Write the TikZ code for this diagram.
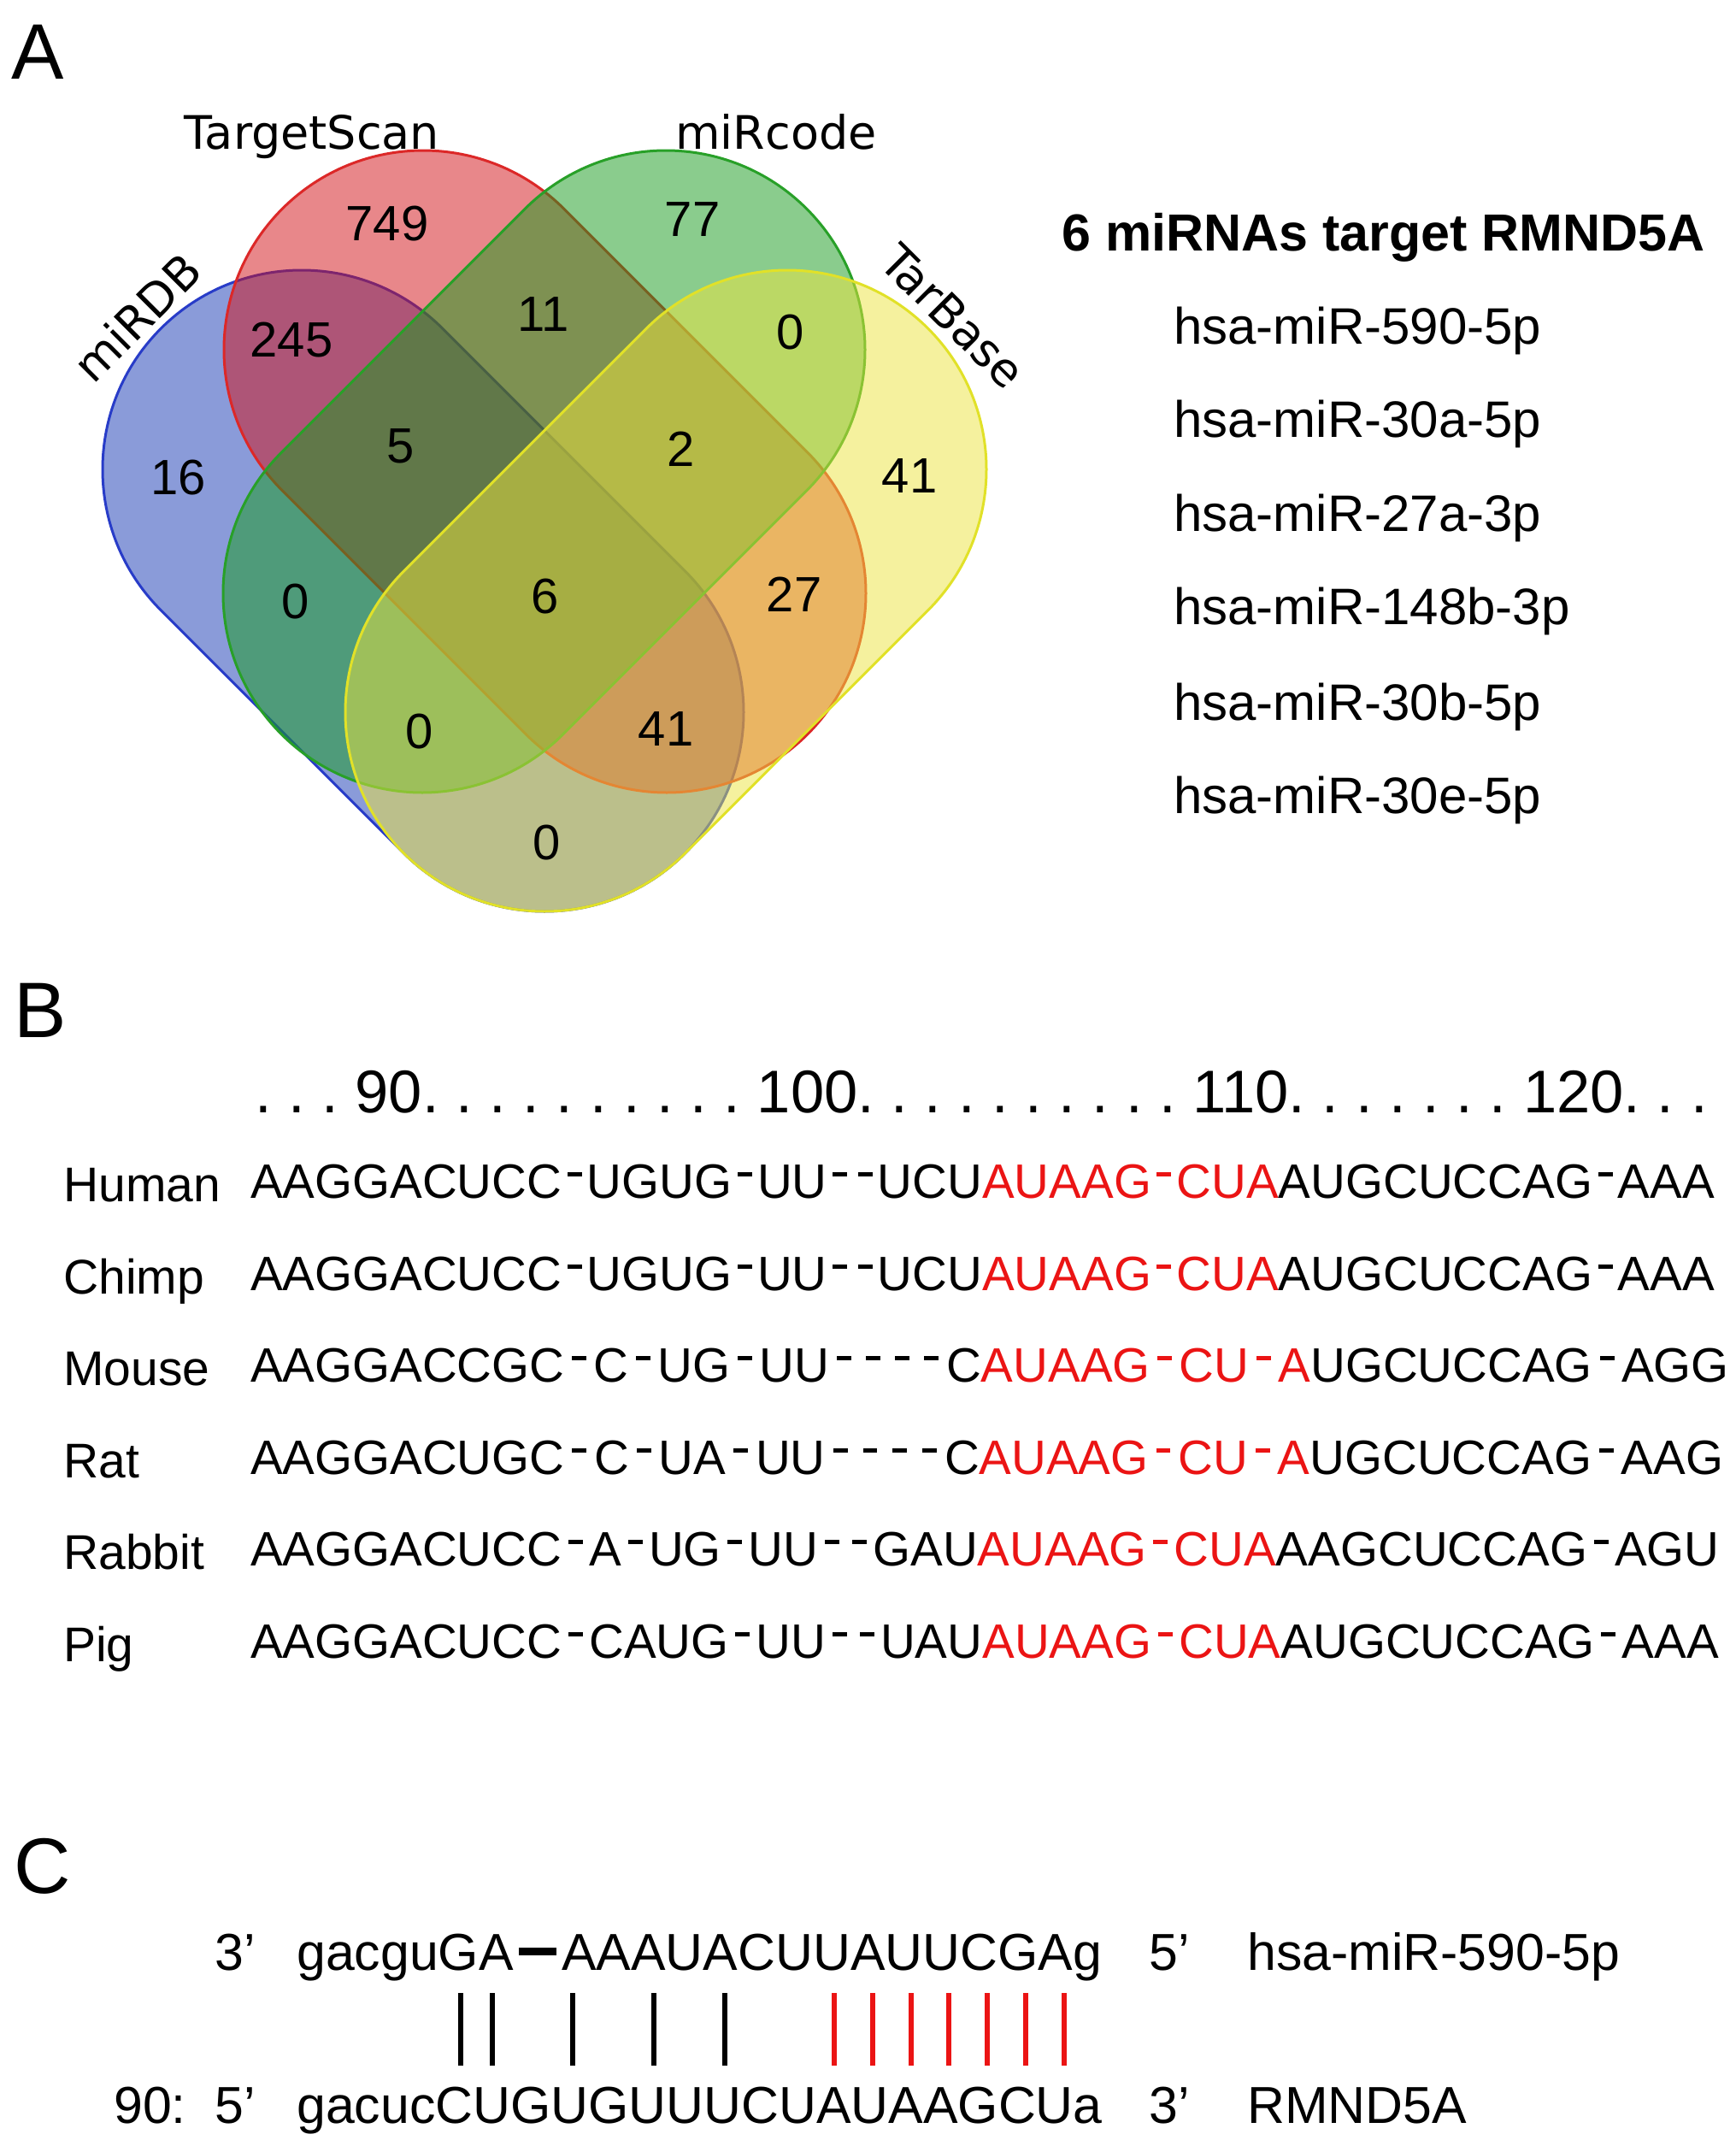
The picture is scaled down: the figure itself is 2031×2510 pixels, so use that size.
\documentclass[tikz,border=0pt]{standalone}
\usepackage{fontspec}
\newfontfamily\arial{Liberation Sans}
\newfontfamily\dejavu{DejaVu Sans}
\usetikzlibrary{calc}
\definecolor{vblue}{RGB}{22,56,180}
\definecolor{vred}{RGB}{210,16,22}
\definecolor{vgreen}{RGB}{22,155,28}
\definecolor{vyellow}{RGB}{236,228,62}
\definecolor{eblue}{RGB}{40,60,200}
\definecolor{ered}{RGB}{220,40,40}
\definecolor{egreen}{RGB}{40,160,40}
\definecolor{eyellow}{RGB}{225,225,40}
\definecolor{seqred}{RGB}{235,20,20}
\newcommand{\hw}{30}
\newcommand{\hy}{\makebox[\hw pt]{\rule[0.44em]{0.3em}{0.1em}}}
\begin{document}
\begin{tikzpicture}[x=1pt,y=-1pt,
  venn/.style={line width=3, fill opacity=0.5},
  panel/.style={font=\arial\fontsize{92}{96}\selectfont, anchor=base west, inner sep=0},
  num/.style={font=\arial\fontsize{58}{60}\selectfont, inner sep=0},
  vlabel/.style={font=\dejavu\fontsize{54}{56}\selectfont, inner sep=0},
  listhead/.style={font=\arial\bfseries\fontsize{61}{64}\selectfont, anchor=base west, inner sep=0},
  listitem/.style={font=\arial\fontsize{60}{64}\selectfont, anchor=base west, inner sep=0},
  ruler/.style={font=\arial\frenchspacing\fontsize{70.5}{72}\selectfont, anchor=base west, inner sep=0},
  seq/.style={font=\arial\fontsize{56.5}{60}\selectfont, anchor=base west, inner sep=0},
  species/.style={font=\arial\fontsize{57}{60}\selectfont, anchor=base west, inner sep=0},
  ctext/.style={font=\arial\fontsize{60.8}{64}\selectfont, anchor=base west, inner sep=0},
  pairbar/.style={line width=6},
]
\useasboundingbox (0,0) rectangle (2031,2510);
\fill[white] (0,0) rectangle (2031,2510);

% ---------- Panel A ----------
\node[panel] (pA) at (13,93) {A};

\coordinate (b1) at (353,549); \coordinate (b2) at (637,833);
\coordinate (r1) at (495,409); \coordinate (r2) at (780,694);
\coordinate (g1) at (779,409); \coordinate (g2) at (494,694);
\coordinate (y1) at (921,549); \coordinate (y2) at (637,833);

\draw[venn, draw=eblue, fill=vblue] ($(b1)+(135:233)$) -- ($(b2)+(135:233)$)
  arc[start angle=135, end angle=-45, radius=233] -- ($(b1)+(-45:233)$)
  arc[start angle=-45, end angle=-225, radius=233] -- cycle;
\draw[venn, draw=ered, fill=vred] ($(r1)+(135:233)$) -- ($(r2)+(135:233)$)
  arc[start angle=135, end angle=-45, radius=233] -- ($(r1)+(-45:233)$)
  arc[start angle=-45, end angle=-225, radius=233] -- cycle;
\draw[venn, draw=egreen, fill=vgreen] ($(g1)+(225:233)$) -- ($(g2)+(225:233)$)
  arc[start angle=225, end angle=45, radius=233] -- ($(g1)+(45:233)$)
  arc[start angle=45, end angle=-135, radius=233] -- cycle;
\draw[venn, draw=eyellow, fill=vyellow] ($(y1)+(225:233)$) -- ($(y2)+(225:233)$)
  arc[start angle=225, end angle=45, radius=233] -- ($(y1)+(45:233)$)
  arc[start angle=45, end angle=-135, radius=233] -- cycle;

\node[vlabel] (lts) at (365,160) {TargetScan};
\node[vlabel] (lmc) at (908,154) {miRcode};
\node[vlabel, rotate=45] (ldb) at (160,371) {miRDB};
\node[vlabel, rotate=-45] (ltb) at (1115,370) {TarBase};

\node[num] (n749) at (453,262) {749};
\node[num] (n77) at (810,257) {77};
\node[num] (n245) at (341,398) {245};
\node[num] (n11) at (636,368) {11};
\node[num] (n0a) at (925,389) {0};
\node[num] (n16) at (209,559) {16};
\node[num] (n5) at (469,522) {5};
\node[num] (n2) at (797,525) {2};
\node[num] (n41a) at (1064,557) {41};
\node[num] (n0b) at (346,704) {0};
\node[num] (n6) at (638,698) {6};
\node[num] (n27) at (929,695) {27};
\node[num] (n0c) at (491,856) {0};
\node[num] (n41b) at (779,853) {41};
\node[num] (n0d) at (640,986) {0};

\node[listhead] (lhead) at (1242,293) {6 miRNAs target RMND5A};
\node[listitem] (m1) at (1373,402) {hsa-miR-590-5p};
\node[listitem] (m2) at (1373,511) {hsa-miR-30a-5p};
\node[listitem] (m3) at (1373,621) {hsa-miR-27a-3p};
\node[listitem] (m4) at (1373,730) {hsa-miR-148b-3p};
\node[listitem] (m5) at (1373,842) {hsa-miR-30b-5p};
\node[listitem] (m6) at (1373,951) {hsa-miR-30e-5p};

% ---------- Panel B ----------
\node[panel] (pB) at (16,1213) {B};
\node[ruler] (rul) at (298,1301) {. . . 90. . . . . . . . . . 100. . . . . . . . . . 110. . . . . . . 120. . .};

\node[species] (sHuman) at (74,1405) {Human};
\node[species] (sChimp) at (74,1513) {Chimp};
\node[species] (sMouse) at (74,1620) {Mouse};
\node[species] (sRat) at (74,1728) {Rat};
\node[species] (sRabbit) at (74,1835) {Rabbit};
\node[species] (sPig) at (74,1943) {Pig};

\node[seq] (qHuman) at (293,1401) {\renewcommand{\hw}{29.6}AAGGACUCC\hy UGUG\hy UU\hy\hy UCU\textcolor{seqred}{AUAAG\hy CUA}AUGCUCCAG\hy AAA};
\node[seq] (qChimp) at (293,1509) {\renewcommand{\hw}{29.6}AAGGACUCC\hy UGUG\hy UU\hy\hy UCU\textcolor{seqred}{AUAAG\hy CUA}AUGCUCCAG\hy AAA};
\node[seq] (qMouse) at (293,1616) {\renewcommand{\hw}{34.2}AAGGACCGC\hy C\hy UG\hy UU\hy\hy\hy\hy C\textcolor{seqred}{AUAAG\hy CU\hy A}UGCUCCAG\hy AGG};
\node[seq] (qRat) at (293,1724) {\renewcommand{\hw}{34.8}AAGGACUGC\hy C\hy UA\hy UU\hy\hy\hy\hy C\textcolor{seqred}{AUAAG\hy CU\hy A}UGCUCCAG\hy AAG};
\node[seq] (qRabbit) at (293,1831) {\renewcommand{\hw}{32}AAGGACUCC\hy A\hy UG\hy UU\hy\hy GAU\textcolor{seqred}{AUAAG\hy CUA}AAGCUCCAG\hy AGU};
\node[seq] (qPig) at (293,1939) {\renewcommand{\hw}{32}AAGGACUCC\hy CAUG\hy UU\hy\hy UAU\textcolor{seqred}{AUAAG\hy CUA}AUGCUCCAG\hy AAA};

% ---------- Panel C ----------
\node[panel] (pC) at (16,2214) {C};
\node[ctext] (c3a) at (251,2304) {3’};
\node[ctext] (mir) at (347,2304) {gacguGA\kern0.11em\rule[0.28em]{0.71em}{0.15em}\kern0.11em AAAUACUUAUUCGAg};
\node[ctext] (c5a) at (1344,2304) {5’};
\node[ctext] (mirname) at (1459,2304) {hsa-miR-590-5p};
\node[ctext] (c90) at (133,2483) {90:};
\node[ctext] (c5b) at (251,2483) {5’};
\node[ctext] (tgt) at (347,2483) {gacucCUGUGUUUCUAUAAGCUa};
\node[ctext] (c3b) at (1344,2483) {3’};
\node[ctext] (tgtname) at (1459,2483) {RMND5A};

\foreach \xx in {539,576,670,765,848}
  \draw[pairbar, black] (\xx,2331) -- (\xx,2416);
\foreach \xx in {976,1021,1066,1110,1155,1200,1245}
  \draw[pairbar, seqred] (\xx,2331) -- (\xx,2416);
\end{tikzpicture}
\end{document}
